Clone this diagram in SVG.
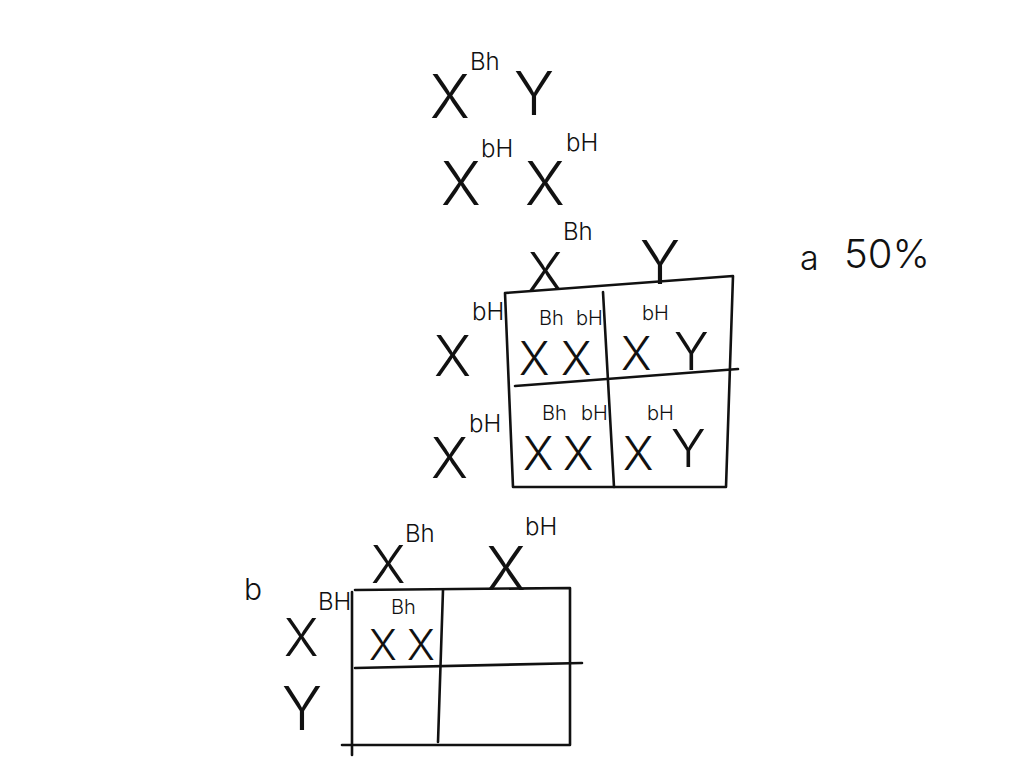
<svg xmlns="http://www.w3.org/2000/svg" width="1024" height="768" viewBox="0 0 1024 768">
<style>
text{font-family:Inter,"Liberation Sans",sans-serif;font-weight:300;fill:#111}
.L{font-size:60px}.K{font-size:56px}.M{font-size:52px}.C{font-size:46px}.S{font-size:24px}.T{font-size:20px}
.g{fill:none;stroke:#111;stroke-width:2.6;stroke-linecap:round;stroke-linejoin:round}
</style>
<rect width="1024" height="768" fill="#fff"/>
<g id="parents">
<text class="L" x="430" y="118">X</text><text class="S" x="470" y="70">Bh</text>
<text class="L" x="514" y="115">Y</text>
<text class="L" x="441" y="205">X</text><text class="S" x="481" y="157">bH</text>
<text class="L" x="525" y="205">X</text><text class="S" x="566" y="151">bH</text>
</g>
<g id="square-a">
<path class="g" d="M505,293 L733,276 L726,487 L513,487 Z"/>
<path class="g" d="M603,292 L614,487"/>
<path class="g" d="M515,386 L738,369"/>
<text class="M" x="528" y="290">X</text><text class="S" x="563" y="240">Bh</text>
<text class="L" x="640" y="284">Y</text>
<text class="K" x="434" y="376">X</text><text class="S" x="472" y="320">bH</text>
<text class="K" x="431" y="478">X</text><text class="S" x="469" y="432">bH</text>
<text class="C" x="519" y="375">X</text><text class="T" x="539" y="325">Bh</text>
<text class="C" x="561" y="375">X</text><text class="T" x="576" y="325">bH</text>
<text class="C" x="621" y="370">X</text><text class="T" x="642" y="320">bH</text>
<text class="M" x="674" y="370">Y</text>
<text class="C" x="523" y="470">X</text><text class="T" x="542" y="420">Bh</text>
<text class="C" x="563" y="470">X</text><text class="T" x="581" y="420">bH</text>
<text class="C" x="623" y="470">X</text><text class="T" x="647" y="420">bH</text>
<text class="M" x="671" y="467">Y</text>
</g>
<g id="answer-a">
<text x="800" y="270" style="font-size:34px">a</text>
<text x="844" y="268" style="font-size:40px">50%</text>
</g>
<g id="square-b">
<path class="g" d="M355,590 L570,588 L570,745 L342,745"/>
<path class="g" d="M352,592 L352,755"/>
<path class="g" d="M443,590 L438,742"/>
<path class="g" d="M355,668 L582,663"/>
<text x="244" y="600" style="font-size:30px">b</text>
<text class="M" x="371" y="583">X</text><text class="S" x="405" y="542">Bh</text>
<text class="L" x="486" y="590">X</text><text class="S" x="525" y="535">bH</text>
<text class="M" x="284" y="656">X</text><text class="S" x="318" y="610">BH</text>
<text class="L" x="282" y="730">Y</text>
<text x="369" y="660" style="font-size:42px">X</text><text class="T" x="391" y="614">Bh</text>
<text x="407" y="660" style="font-size:42px">X</text>
</g>
</svg>
